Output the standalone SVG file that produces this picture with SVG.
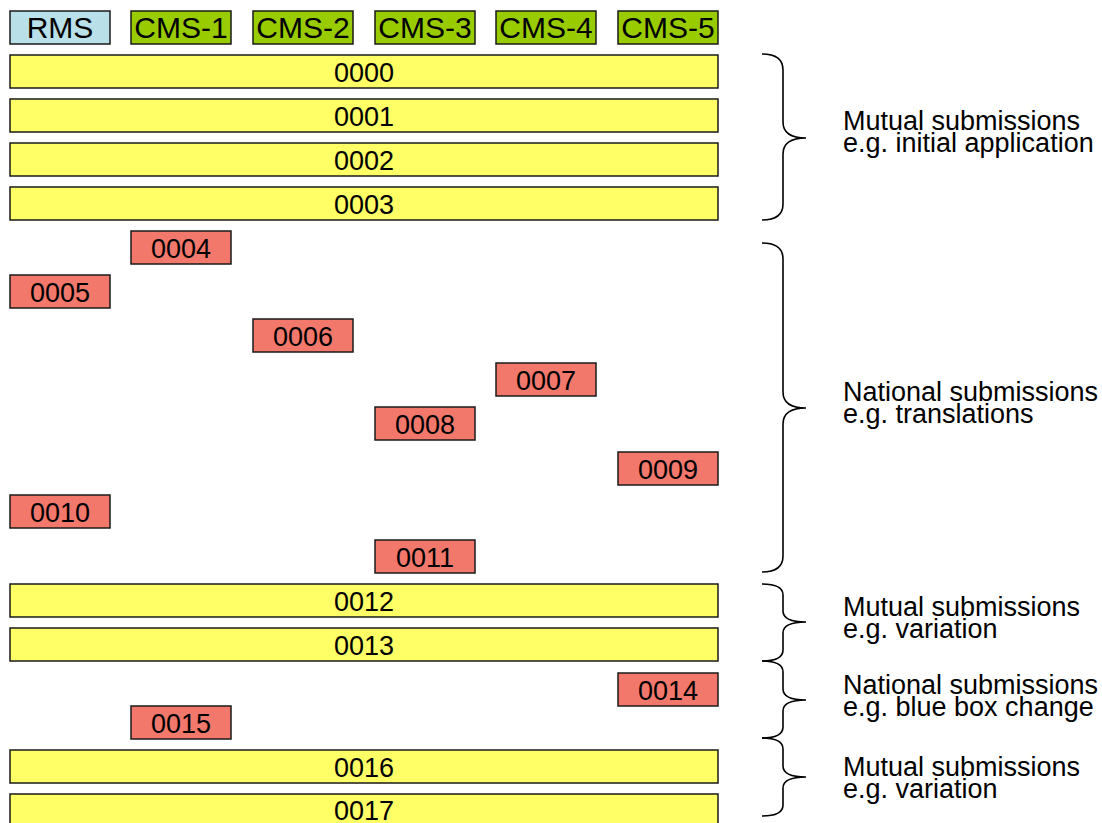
<svg xmlns="http://www.w3.org/2000/svg" width="1102" height="823" viewBox="0 0 1102 823">
<style>
rect{stroke:#1a1a1a;stroke-width:1.5}
.rms{fill:#B9E0E8}
.cms{fill:#99CC00}
.mut{fill:#FFFF66}
.nat{fill:#F2786C}
text{font-family:"Liberation Sans",Arial,sans-serif;fill:#000}
.hd{font-size:30px;text-anchor:middle}
.num{font-size:27px;text-anchor:middle}
.lbl{font-size:27px}
.brace{fill:none;stroke:#000;stroke-width:1.6}
</style>
<rect width="1102" height="823" fill="#fff" style="stroke:none"/>
<g id="headers">
<g id="h-rms"><rect class="rms" x="10" y="11" width="100" height="33"/><text class="hd" x="60" y="38">RMS</text></g>
<g id="h-cms1"><rect class="cms" x="131" y="11" width="100" height="33"/><text class="hd" x="181" y="38">CMS-1</text></g>
<g id="h-cms2"><rect class="cms" x="253" y="11" width="100" height="33"/><text class="hd" x="303" y="38">CMS-2</text></g>
<g id="h-cms3"><rect class="cms" x="375" y="11" width="100" height="33"/><text class="hd" x="425" y="38">CMS-3</text></g>
<g id="h-cms4"><rect class="cms" x="496" y="11" width="100" height="33"/><text class="hd" x="546" y="38">CMS-4</text></g>
<g id="h-cms5"><rect class="cms" x="618" y="11" width="100" height="33"/><text class="hd" x="668" y="38">CMS-5</text></g>
</g>
<g id="s0000"><rect class="mut" x="10" y="55" width="708" height="33"/><text class="num" x="364" y="82">0000</text></g>
<g id="s0001"><rect class="mut" x="10" y="99" width="708" height="33"/><text class="num" x="364" y="126">0001</text></g>
<g id="s0002"><rect class="mut" x="10" y="143" width="708" height="33"/><text class="num" x="364" y="170">0002</text></g>
<g id="s0003"><rect class="mut" x="10" y="187" width="708" height="33"/><text class="num" x="364" y="214">0003</text></g>
<g id="s0004"><rect class="nat" x="131" y="231" width="100" height="33"/><text class="num" x="181" y="258">0004</text></g>
<g id="s0005"><rect class="nat" x="10" y="275" width="100" height="33"/><text class="num" x="60" y="302">0005</text></g>
<g id="s0006"><rect class="nat" x="253" y="319" width="100" height="33"/><text class="num" x="303" y="346">0006</text></g>
<g id="s0007"><rect class="nat" x="496" y="363" width="100" height="33"/><text class="num" x="546" y="390">0007</text></g>
<g id="s0008"><rect class="nat" x="375" y="407" width="100" height="33"/><text class="num" x="425" y="434">0008</text></g>
<g id="s0009"><rect class="nat" x="618" y="452" width="100" height="33"/><text class="num" x="668" y="479">0009</text></g>
<g id="s0010"><rect class="nat" x="10" y="495" width="100" height="33"/><text class="num" x="60" y="522">0010</text></g>
<g id="s0011"><rect class="nat" x="375" y="540" width="100" height="33"/><text class="num" x="425" y="567">0011</text></g>
<g id="s0012"><rect class="mut" x="10" y="584" width="708" height="33"/><text class="num" x="364" y="611">0012</text></g>
<g id="s0013"><rect class="mut" x="10" y="628" width="708" height="33"/><text class="num" x="364" y="655">0013</text></g>
<g id="s0014"><rect class="nat" x="618" y="673" width="100" height="33"/><text class="num" x="668" y="700">0014</text></g>
<g id="s0015"><rect class="nat" x="131" y="706" width="100" height="33"/><text class="num" x="181" y="733">0015</text></g>
<g id="s0016"><rect class="mut" x="10" y="750" width="708" height="33"/><text class="num" x="364" y="777">0016</text></g>
<g id="s0017"><rect class="mut" x="10" y="794" width="708" height="33"/><text class="num" x="364" y="820">0017</text></g>
<g id="braces">
<path class="brace" d="M762,54 Q783,54 783,70 L783,122 Q783,138 806,138 Q783,138 783,154 L783,204 Q783,220 762,220"/>
<path class="brace" d="M762,243 Q783,243 783,259 L783,392 Q783,408 806,408 Q783,408 783,424 L783,556 Q783,572 762,572"/>
<path class="brace" d="M762,584 Q783,584 783,595 L783,611 Q783,622 806,622 Q783,622 783,633 L783,650 Q783,661 762,661"/>
<path class="brace" d="M762,661 Q783,661 783,672 L783,689 Q783,700 806,700 Q783,700 783,711 L783,727 Q783,738 762,738"/>
<path class="brace" d="M762,738 Q783,738 783,749 L783,766 Q783,777 806,777 Q783,777 783,788 L783,805 Q783,816 762,816"/>
</g>
<g id="labels">
<g id="l1"><text class="lbl" x="843" y="130">Mutual submissions</text><text class="lbl" x="843" y="152">e.g. initial application</text></g>
<g id="l2"><text class="lbl" x="843" y="401">National submissions</text><text class="lbl" x="843" y="423">e.g. translations</text></g>
<g id="l3"><text class="lbl" x="843" y="616">Mutual submissions</text><text class="lbl" x="843" y="638">e.g. variation</text></g>
<g id="l4"><text class="lbl" x="843" y="694">National submissions</text><text class="lbl" x="843" y="716">e.g. blue box change</text></g>
<g id="l5"><text class="lbl" x="843" y="776">Mutual submissions</text><text class="lbl" x="843" y="798">e.g. variation</text></g>
</g>
</svg>
